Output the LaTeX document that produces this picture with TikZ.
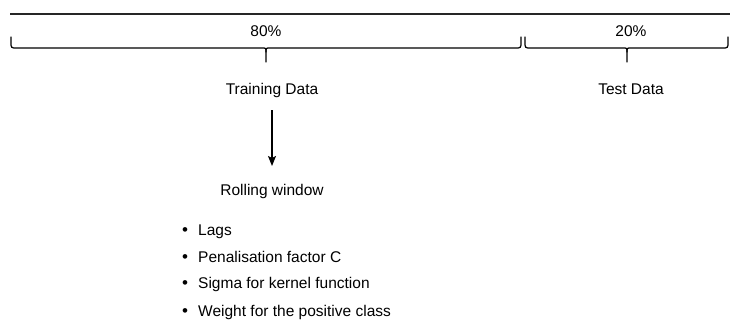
\documentclass[tikz,border=0pt]{standalone}
\usepackage{fontspec}
\setmainfont{Liberation Sans}
\usetikzlibrary{arrows.meta}
\begin{document}
\begin{tikzpicture}[x=1pt,y=-1pt,
  lbl/.style={font=\fontsize{15.5pt}{18pt}\selectfont, inner sep=0pt, anchor=base},
  item/.style={font=\fontsize{15.5pt}{18pt}\selectfont, inner sep=0pt, anchor=base west},
  dot/.style={font=\fontsize{17pt}{18pt}\selectfont, inner sep=0pt, anchor=base},
  brc/.style={line width=1.2pt, line cap=round},
  arr/.style={line width=1.2pt, -{Stealth[length=10pt,width=8pt,inset=2pt]}}]
\useasboundingbox (0,0) rectangle (730,322);
% top line
\draw[line width=1.2pt, black!85] (10,14) -- (730,14);
% brace 1 (80%)
\draw[brc] (11,37) -- (11,42) .. controls (11,48) .. (17,48) -- (262,48) .. controls (266,48) .. (266,52) -- (266,62);
\draw[brc] (266,52) .. controls (266,48) .. (270,48) -- (515,48) .. controls (521,48) .. (521,42) -- (521,37);
% brace 2 (20%)
\draw[brc] (525,37) -- (525,42) .. controls (525,48) .. (531,48) -- (623,48) .. controls (627,48) .. (627,52) -- (627,62);
\draw[brc] (627,52) .. controls (627,48) .. (631,48) -- (722,48) .. controls (728,48) .. (728,42) -- (728,37);
% labels
\node[lbl] (p80) at (266,36) {80\%};
\node[lbl] (p20) at (631,36) {20\%};
\node[lbl] (train) at (272,94) {Training Data};
\node[lbl] (test) at (631,94) {Test Data};
\node[lbl] (roll) at (272,195) {Rolling window};
\coordinate (a1) at (272,110);
\coordinate (a2) at (272,166);
\draw[arr] (a1) -- (a2);
% bullets
\foreach \n/\yy/\t in {b1/235/Lags, b2/262/Penalisation factor C, b3/288/Sigma for kernel function, b4/316/Weight for the positive class}{
  \node[item] (\n) at (198,\yy) {\t};
  \node[dot] (\n d) at (185,\yy) {\textbullet};
}
\end{tikzpicture}
\end{document}
